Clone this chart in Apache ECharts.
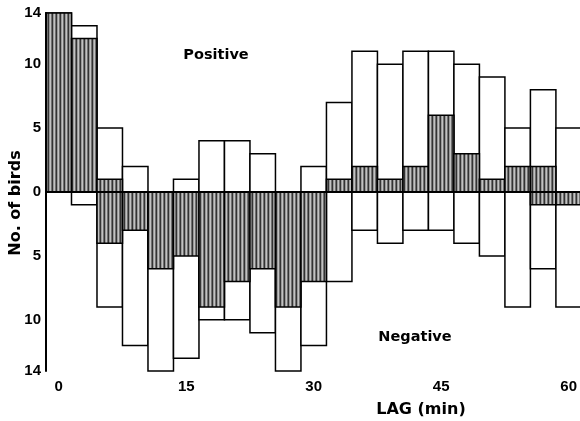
<!DOCTYPE html>
<html><head><meta charset="utf-8">
<script src="https://cdn.jsdelivr.net/npm/echarts@6/dist/echarts.min.js"></script>
<style>html,body{margin:0;padding:0;background:#fff}#c{width:580px;height:421px}</style>
</head><body><div id="c"></div>
<script>
// ---- data ----
const lags = [0,3,6,9,12,15,18,21,24,27,30,33,36,39,42,45,48,51,54,57,60];
const positiveTotal   = [14,13,5,2,0,1,4,4,3,0,2,7,11,10,11,11,10,9,5,8,5];
const positiveHatched = [14,12,1,0,0,0,0,0,0,0,0,1,2,1,2,6,3,1,2,2,0];
const negativeTotal   = [0,1,9,12,14,13,10,10,11,14,12,7,3,4,3,3,4,5,9,6,9];
const negativeHatched = [0,0,4,3,6,5,9,7,6,9,7,0,0,0,0,0,0,0,0,1,1];
const xTickLabels = [0,15,30,45,60];
const yTickLabels = [14,10,5,0,-5,-10,-14];
const binWidth = 3;

// hatch pattern (vertical stripes)
const pat = document.createElement('canvas');
pat.width = 4; pat.height = 4;
const pc = pat.getContext('2d');
['#333333','#999999','#c2c2c2','#707070'].forEach((c,i)=>{pc.fillStyle=c;pc.fillRect(i,0,1,4);});
const hatchFill = {image: pat, repeat: 'repeat'};

function makeRender(fill){
  return function(params, api){
    const x = api.value(0), v = api.value(1);
    if (!v) return null;
    const p1 = api.coord([x - binWidth/2, v]);
    const p2 = api.coord([x + binWidth/2, 0]);
    return {
      type: 'rect',
      shape: {x: p1[0], y: Math.min(p1[1], p2[1]), width: p2[0]-p1[0], height: Math.abs(p2[1]-p1[1])},
      style: {fill: fill, stroke: '#000', lineWidth: 1.5}
    };
  };
}

const openData = lags.map((x,i)=>[x, positiveTotal[i]]).concat(lags.map((x,i)=>[x, -negativeTotal[i]]));
const hatchData = lags.map((x,i)=>[x, positiveHatched[i]]).concat(lags.map((x,i)=>[x, -negativeHatched[i]]));

const numFont = {fontFamily: 'Liberation Sans', fontWeight: 'bold', fontSize: 15, color: '#000'};
const wordFont = {fontFamily: 'DejaVu Sans', fontWeight: 'bold', fontSize: 14.5, fill: '#000'};
const titleFont = {fontFamily: 'DejaVu Sans', fontWeight: 'bold', fontSize: 16, fill: '#000'};

const chart = echarts.init(document.getElementById('c'), null, {renderer: 'canvas'});
chart.setOption({
  animation: false,
  backgroundColor: '#fff',
  grid: {left: 46, right: 0, top: 13, bottom: 50},
  xAxis: [{
    type: 'value', min: -1.5, max: 61.3,
    axisLine: {show: false, onZero: false},
    axisTick: {show: false},
    splitLine: {show: false},
    axisLabel: Object.assign({customValues: xTickLabels, margin: 8}, numFont)
  },{
    type: 'value', min: -1.5, max: 61.3, z: 10,
    axisLine: {show: true, onZero: true, lineStyle: {color: '#000', width: 2}},
    axisTick: {show: false}, axisLabel: {show: false}, splitLine: {show: false}
  }],
  yAxis: {
    type: 'value', min: -14, max: 14, z: 10,
    axisLine: {show: true, onZero: false, lineStyle: {color: '#000', width: 2}},
    axisTick: {show: false},
    splitLine: {show: false},
    axisLabel: Object.assign({customValues: yTickLabels, margin: 5, formatter: v => String(Math.abs(v))}, numFont)
  },
  series: [
    {type: 'custom', xAxisIndex: 0, renderItem: makeRender('#fff'), data: openData, z: 2},
    {type: 'custom', xAxisIndex: 0, renderItem: makeRender(hatchFill), data: hatchData, z: 3}
  ],
  graphic: [
    {type: 'text', x: 216, y: 55, style: Object.assign({text: 'Positive', align: 'center', verticalAlign: 'middle'}, wordFont)},
    {type: 'text', x: 415, y: 337, style: Object.assign({text: 'Negative', align: 'center', verticalAlign: 'middle'}, wordFont)},
    {type: 'text', x: 421, y: 410, style: Object.assign({text: 'LAG (min)', align: 'center', verticalAlign: 'middle'}, titleFont)},
    {type: 'text', x: 16, y: 203, rotation: Math.PI/2, style: Object.assign({text: 'No. of birds', align: 'center', verticalAlign: 'middle'}, titleFont)}
  ]
});
</script>
</body></html>
